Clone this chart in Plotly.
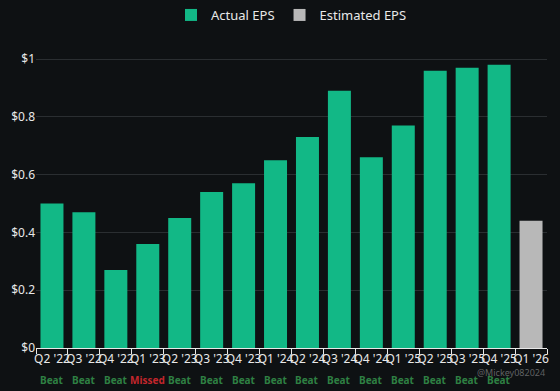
import plotly.graph_objects as go

quarters = ["Q2 '22", "Q3 '22", "Q4 '22", "Q1 '23", "Q2 '23", "Q3 '23", "Q4 '23", "Q1 '24",
            "Q2 '24", "Q3 '24", "Q4 '24", "Q1 '25", "Q2 '25", "Q3 '25", "Q4 '25", "Q1 '26"]
actual_eps = [0.50, 0.47, 0.27, 0.36, 0.45, 0.54, 0.57, 0.65, 0.73, 0.89, 0.66, 0.77, 0.96, 0.97, 0.98, None]
estimated_eps = [None] * 15 + [0.44]
results = ["Beat", "Beat", "Beat", "Missed", "Beat", "Beat", "Beat", "Beat",
           "Beat", "Beat", "Beat", "Beat", "Beat", "Beat", "Beat", ""]

fig = go.Figure()
fig.add_trace(go.Bar(x=quarters, y=actual_eps, name="Actual EPS", marker_color="#12b886",
                     marker_line_width=0, width=0.72))
fig.add_trace(go.Bar(x=quarters, y=estimated_eps, name="Estimated EPS", marker_color="#b8b8b8",
                     marker_line_width=0, width=0.72))

for q, r in zip(quarters, results):
    if not r:
        continue
    fig.add_annotation(x=q, y=(348 - 380) / 308, xref="x", yref="paper", yanchor="middle",
                       text="<b>" + r + "</b>", showarrow=False,
                       font=dict(size=10, color="#c3262c" if r == "Missed" else "#2e8043",
                                 family="Noto Sans"))

fig.add_annotation(x=1.0, y=(348 - 372) / 308, xref="paper", yref="paper", xanchor="right",
                   yanchor="middle", text="@Mickey082024", showarrow=False,
                   font=dict(size=9, color="rgba(200,200,200,0.45)", family="Noto Sans"))

fig.update_layout(
    width=560, height=391,
    paper_bgcolor="#0e1113", plot_bgcolor="#0e1113",
    barmode="overlay",
    margin=dict(l=36, r=13, t=40, b=43, autoexpand=False),
    font=dict(family="Noto Sans", color="#e8e8e8", size=12),
    showlegend=True,
    legend=dict(orientation="h", x=0.5, xanchor="center", y=1.0, yref="container", yanchor="top",
                font=dict(size=13, color="#e8e8e8"), itemsizing="constant", itemwidth=30,
                tracegroupgap=0),
    xaxis=dict(tickson="boundaries", ticks="outside", ticklen=5, tickcolor="#e8e8e8",
               showline=True, linecolor="#e8e8e8", linewidth=1, showgrid=False,
               tickfont=dict(size=12, color="#e8e8e8"), tickangle=0, automargin=False),
    yaxis=dict(range=[0, 1.066], tickvals=[0, 0.2, 0.4, 0.6, 0.8, 1.0],
               ticktext=["$0", "$0.2", "$0.4", "$0.6", "$0.8", "$1"],
               gridcolor="#2a2e31", zeroline=False, showline=False, automargin=False,
               tickfont=dict(size=12, color="#e8e8e8")),
)

fig.write_html("out.html", config={"displayModeBar": False},
               post_script="document.body.style.margin='0';document.body.style.background='#0e1113';")
